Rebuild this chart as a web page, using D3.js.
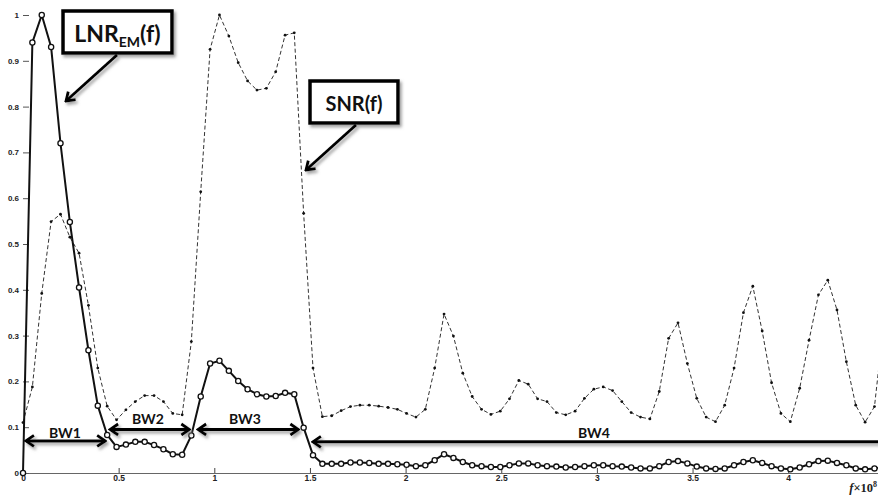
<!DOCTYPE html>
<html>
<head>
<meta charset="utf-8">
<script src="https://cdn.jsdelivr.net/npm/d3@7"></script>
<style>
  html, body { margin: 0; padding: 0; background: #fff; }
  svg { display: block; }
</style>
</head>
<body>
<svg id="chart" width="878" height="495"></svg>
<script>
// ---- data (frequency in units of 10^8 Hz) ----
const freq = [0.000,0.049,0.098,0.147,0.196,0.245,0.293,0.342,0.391,0.440,
  0.489,0.538,0.587,0.636,0.685,0.734,0.783,0.832,0.880,0.929,
  0.978,1.027,1.076,1.125,1.174,1.223,1.272,1.321,1.370,1.418,
  1.467,1.516,1.565,1.614,1.663,1.712,1.761,1.810,1.859,1.908,
  1.957,2.005,2.054,2.103,2.152,2.201,2.250,2.299,2.348,2.397,
  2.446,2.495,2.543,2.592,2.641,2.690,2.739,2.788,2.837,2.886,
  2.935,2.984,3.033,3.082,3.130,3.179,3.228,3.277,3.326,3.375,
  3.424,3.473,3.522,3.571,3.620,3.668,3.717,3.766,3.815,3.864,
  3.913,3.962,4.011,4.060,4.109,4.158,4.207,4.255,4.304,4.353,
  4.402,4.451,4.500];

const snr = [0.11,0.188,0.392,0.549,0.565,0.515,0.48,0.366,0.229,0.146,
  0.116,0.138,0.156,0.169,0.169,0.156,0.130,0.127,0.287,0.614,
  0.925,1.0,0.954,0.896,0.856,0.836,0.84,0.876,0.956,0.961,
  0.567,0.229,0.123,0.125,0.136,0.145,0.148,0.148,0.146,0.143,
  0.139,0.130,0.122,0.139,0.229,0.347,0.299,0.218,0.167,0.139,
  0.128,0.135,0.162,0.202,0.194,0.162,0.156,0.132,0.127,0.135,
  0.163,0.183,0.188,0.180,0.156,0.132,0.122,0.118,0.178,0.294,
  0.328,0.239,0.163,0.122,0.112,0.148,0.229,0.350,0.408,0.310,
  0.197,0.130,0.112,0.185,0.290,0.389,0.421,0.356,0.243,0.148,
  0.111,0.145,0.33];

const lnrEM = [0,0.94,1.0,0.93,0.72,0.548,0.405,0.268,0.147,0.083,
  0.057,0.062,0.068,0.068,0.061,0.052,0.041,0.040,0.082,0.167,
  0.239,0.245,0.223,0.201,0.183,0.172,0.167,0.168,0.175,0.172,
  0.099,0.039,0.020,0.020,0.020,0.023,0.023,0.022,0.020,0.020,
  0.019,0.018,0.015,0.017,0.028,0.041,0.033,0.024,0.017,0.015,
  0.013,0.013,0.017,0.021,0.021,0.017,0.015,0.014,0.012,0.013,
  0.015,0.017,0.017,0.015,0.014,0.012,0.010,0.010,0.015,0.024,
  0.026,0.021,0.014,0.010,0.009,0.010,0.017,0.024,0.028,0.022,
  0.015,0.010,0.008,0.012,0.019,0.026,0.027,0.022,0.017,0.010,
  0.008,0.010,0.012];

const xTicks = [0, 0.5, 1, 1.5, 2, 2.5, 3, 3.5, 4];
const xTickLabels = ["0", "0.5", "1", "1.5", "2", "2.5", "3", "3.5", "4"];
const yTicks = [0, 0.1, 0.2, 0.3, 0.4, 0.5, 0.6, 0.7, 0.8, 0.9, 1];
const yTickLabels = ["0", "0.1", "0.2", "0.3", "0.4", "0.5", "0.6", "0.7", "0.8", "0.9", "1"];

// bandwidth regions (start, end in 10^8 Hz) and labels
const bwNames = ["BW1", "BW2", "BW3", "BW4"];
const bwStart = [0.005, 0.445, 0.905, 1.505];
const bwEnd   = [0.440, 0.880, 1.450, 4.70];
const bwLevel = [0.070, 0.095, 0.095, 0.068];

// ---- drawing ----
const W = 878, H = 495;
const svg = d3.select("#chart");
svg.append("rect").attr("width", W).attr("height", H).attr("fill", "#fff");

const x = d3.scaleLinear().domain([0, 4.5]).range([23, 23 + 4.5 * 191.3]);
const y = d3.scaleLinear().domain([0, 1]).range([473, 15]);

const defs = svg.append("defs");
const shadow = defs.append("filter").attr("id", "shadow")
  .attr("filterUnits", "userSpaceOnUse")
  .attr("x", 0).attr("y", 0).attr("width", W).attr("height", H);
shadow.append("feDropShadow").attr("dx", 2).attr("dy", 2.5).attr("stdDeviation", 1.6)
  .attr("flood-color", "#777").attr("flood-opacity", 0.7);

defs.append("clipPath").attr("id", "plotclip").append("rect")
  .attr("x", 0).attr("y", 0).attr("width", W).attr("height", H);

const head = defs.append("marker").attr("id", "head")
  .attr("viewBox", "-10 -7 12 14").attr("refX", 0).attr("refY", 0)
  .attr("markerWidth", 12).attr("markerHeight", 14)
  .attr("markerUnits", "userSpaceOnUse").attr("orient", "auto-start-reverse");
head.append("path").attr("d", "M-8,-5.5 L0,0 L-8,5.5")
  .attr("fill", "none").attr("stroke", "#000").attr("stroke-width", 2.8)
  .attr("stroke-linejoin", "miter");

// axes
const xAxis = d3.axisBottom(x).tickValues(xTicks)
  .tickFormat((d, i) => xTickLabels[i]).tickSizeInner(-5).tickSizeOuter(0).tickPadding(4);
const gx = svg.append("g").attr("transform", "translate(0,473)").call(xAxis);
gx.select(".domain").attr("stroke", "#666").attr("stroke-width", 1);
gx.selectAll(".tick line").attr("stroke", "#444");
gx.selectAll(".tick text").attr("font-family", "Liberation Sans, Arial, sans-serif")
  .attr("font-size", 8.5).attr("font-weight", "bold").attr("fill", "#222").attr("dy", "0.5em");

const yAxis = d3.axisLeft(y).tickValues(yTicks)
  .tickFormat((d, i) => yTickLabels[i]).tickSizeInner(-6).tickSizeOuter(0).tickPadding(4);
const gy = svg.append("g").attr("transform", "translate(23,0)").call(yAxis);
gy.select(".domain").remove();
gy.selectAll(".tick line").attr("stroke", "#555");
gy.selectAll(".tick text").attr("font-family", "Liberation Sans, Arial, sans-serif")
  .attr("font-size", 8).attr("font-weight", "bold").attr("fill", "#222");

// series
const plot = svg.append("g").attr("clip-path", "url(#plotclip)");
const line = d3.line().x((d, i) => x(freq[i])).y(d => y(d));

plot.append("path").datum(snr).attr("d", line)
  .attr("fill", "none").attr("stroke", "#333").attr("stroke-width", 1)
  .attr("stroke-dasharray", "4,2.5");
plot.selectAll("circle.snr").data(snr).join("circle").attr("class", "snr")
  .attr("cx", (d, i) => x(freq[i])).attr("cy", d => y(d)).attr("r", 1.4).attr("fill", "#111");

plot.append("path").datum(lnrEM).attr("d", line)
  .attr("fill", "none").attr("stroke", "#111").attr("stroke-width", 2);
plot.selectAll("circle.lnr").data(lnrEM).join("circle").attr("class", "lnr")
  .attr("cx", (d, i) => x(freq[i])).attr("cy", d => y(d)).attr("r", 2.6)
  .attr("fill", "#fff").attr("stroke", "#111").attr("stroke-width", 1.3);

// bandwidth arrows
const bw = svg.append("g").attr("clip-path", "url(#plotclip)");
bwNames.forEach((name, i) => {
  const x0 = x(bwStart[i]), x1 = x(bwEnd[i]), yy = y(bwLevel[i]);
  bw.append("line").attr("x1", x0 + 2).attr("x2", x1 - 2).attr("y1", yy).attr("y2", yy)
    .attr("stroke", "#000").attr("stroke-width", 3)
    .attr("marker-start", "url(#head)").attr("marker-end", "url(#head)")
    .attr("filter", "url(#shadow)");
});
const bwLabelX = [65, 148, 245, 594];
const bwLabelY = [438, 423.5, 423.5, 437.5];
bwNames.forEach((name, i) => {
  svg.append("text").attr("x", bwLabelX[i]).attr("y", bwLabelY[i])
    .attr("text-anchor", "middle").attr("font-family", "Lato, 'Open Sans', sans-serif")
    .attr("font-weight", "bold").attr("font-size", 14).attr("fill", "#111").text(name);
});

// annotation boxes
function box(bx, by, bw_, bh) {
  svg.append("rect").attr("x", bx).attr("y", by).attr("width", bw_).attr("height", bh)
    .attr("fill", "#fff").attr("stroke", "#000").attr("stroke-width", 3.5)
    .attr("filter", "url(#shadow)");
}
box(63, 11, 109, 42);
const t1 = svg.append("text").attr("x", 117.5).attr("y", 42)
  .attr("text-anchor", "middle").attr("font-family", "Lato, 'Open Sans', sans-serif")
  .attr("font-weight", "bold").attr("font-size", 23).attr("fill", "#111");
t1.append("tspan").text("LNR");
t1.append("tspan").attr("font-size", 14).attr("dy", 5).text("EM");
t1.append("tspan").attr("dy", -5).text("(f)");

box(310, 81, 88, 42);
svg.append("text").attr("x", 354).attr("y", 110.5).attr("text-anchor", "middle")
  .attr("font-family", "Lato, 'Open Sans', sans-serif").attr("font-weight", "bold")
  .attr("font-size", 20).attr("fill", "#111").text("SNR(f)");

// pointer arrows
svg.append("line").attr("x1", 117).attr("y1", 55).attr("x2", 66).attr("y2", 101)
  .attr("stroke", "#000").attr("stroke-width", 2.8).attr("marker-end", "url(#head)")
  .attr("filter", "url(#shadow)");
svg.append("line").attr("x1", 356).attr("y1", 125).attr("x2", 306).attr("y2", 170)
  .attr("stroke", "#000").attr("stroke-width", 2.8).attr("marker-end", "url(#head)")
  .attr("filter", "url(#shadow)");

// x-axis unit label
const ul = svg.append("text").attr("x", 877).attr("y", 492).attr("text-anchor", "end")
  .attr("font-family", "Liberation Serif, 'Times New Roman', serif").attr("font-weight", "bold")
  .attr("font-size", 12.5).attr("fill", "#222");
ul.append("tspan").attr("font-style", "italic").text("f");
ul.append("tspan").text("×10");
ul.append("tspan").attr("font-size", 8).attr("dy", -5).text("8");
</script>
</body>
</html>
